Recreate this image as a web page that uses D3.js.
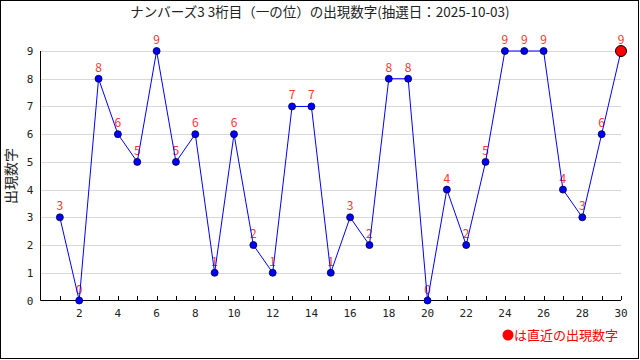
<!DOCTYPE html>
<html><head><meta charset="utf-8">
<script src="https://cdn.jsdelivr.net/npm/d3@7/dist/d3.min.js"></script>
<style>body{margin:0;background:#fff}svg{display:block}</style>
</head><body>
<script>
const draws = [1,2,3,4,5,6,7,8,9,10,11,12,13,14,15,16,17,18,19,20,21,22,23,24,25,26,27,28,29,30];
const digits = [3,0,8,6,5,9,5,6,1,6,2,1,7,7,1,3,2,8,8,0,4,2,5,9,9,9,4,3,6,9];
const xTickLabels = [2,4,6,8,10,12,14,16,18,20,22,24,26,28,30];
const yTickLabels = [0,1,2,3,4,5,6,7,8,9];
const titleText = "ナンバーズ3 3桁目（一の位）の出現数字(抽選日：2025-10-03)";
const yLabel = "出現数字";
const legendText = "は直近の出現数字";

const W = 640, H = 360;
const svg = d3.select("body").append("svg").attr("width", W).attr("height", H);
const font = "'Noto Sans CJK JP', 'DejaVu Sans', sans-serif";

svg.append("rect").attr("x",0.5).attr("y",0.5).attr("width",638).attr("height",358)
  .attr("fill","#fff").attr("stroke","#000");

const x = d3.scaleLinear().domain([0,30]).range([40.5,621]);
const y = d3.scaleLinear().domain([0,9]).range([300.5,51]);

// gridlines
svg.append("g").selectAll("line").data(yTickLabels.filter(d=>d>0)).join("line")
  .attr("x1",x(0)).attr("x2",x(30)).attr("y1",d=>Math.round(y(d))+0.5).attr("y2",d=>Math.round(y(d))+0.5)
  .attr("stroke","#d8d8d8");

// y axis
svg.append("line").attr("x1",40.5).attr("x2",40.5).attr("y1",y(9)).attr("y2",y(0)).attr("stroke","#000");
svg.append("g").selectAll("text").data(yTickLabels).join("text")
  .attr("x",30).attr("y",d=>y(d)+4).attr("text-anchor","middle")
  .attr("font-family","'DejaVu Sans Mono', monospace").attr("font-size",11).attr("fill","#222").text(d=>d);

// x axis
svg.append("line").attr("x1",x(0)).attr("x2",x(30)).attr("y1",300.5).attr("y2",300.5).attr("stroke","#000");
svg.append("g").selectAll("line").data(d3.range(1,31)).join("line")
  .attr("x1",d=>Math.round(x(d))+0.5).attr("x2",d=>Math.round(x(d))+0.5).attr("y1",300).attr("y2",296)
  .attr("stroke","#000");
svg.append("g").selectAll("text").data(xTickLabels).join("text")
  .attr("x",d=>x(d)).attr("y",317).attr("text-anchor","middle")
  .attr("font-family","'DejaVu Sans Mono', monospace").attr("font-size",11).attr("fill","#222").text(d=>d);

const pts = draws.map((d,i)=>({x:d,y:digits[i]}));

// labels (under the line)
svg.append("g").selectAll("text").data(pts).join("text")
  .attr("x",d=>x(d.x)).attr("y",d=>y(d.y)-7).attr("text-anchor","middle")
  .attr("font-family",font).attr("font-size",12).attr("fill","#ff3333").text(d=>d.y);

// line
svg.append("path").datum(pts)
  .attr("d", d3.line().x(d=>x(d.x)).y(d=>y(d.y)))
  .attr("fill","none").attr("stroke","#0000ff").attr("stroke-width",1);

// markers
svg.append("g").selectAll("circle").data(pts.slice(0,-1)).join("circle")
  .attr("cx",d=>x(d.x)).attr("cy",d=>y(d.y)).attr("r",3.5)
  .attr("fill","#0000ff").attr("stroke","#000033").attr("stroke-width",0.8);
const last = pts[pts.length-1];
svg.append("circle").attr("cx",x(last.x)).attr("cy",y(last.y)).attr("r",5.5)
  .attr("fill","#ff0000").attr("stroke","#000").attr("stroke-width",1);

// title
svg.append("text").attr("x",320).attr("y",17).attr("text-anchor","middle")
  .attr("font-family",font).attr("font-size",13.5).attr("fill","#222").text(titleText);

// y label
svg.append("text").attr("transform","translate(16,176) rotate(-90)").attr("text-anchor","middle")
  .attr("font-family",font).attr("font-size",14).attr("fill","#222").text(yLabel);

// legend
svg.append("circle").attr("cx",508).attr("cy",335).attr("r",5.5).attr("fill","#ff0000");
svg.append("text").attr("x",514).attr("y",340).attr("font-family",font).attr("font-size",13)
  .attr("fill","#ff0000").text(legendText);
</script>
</body></html>
